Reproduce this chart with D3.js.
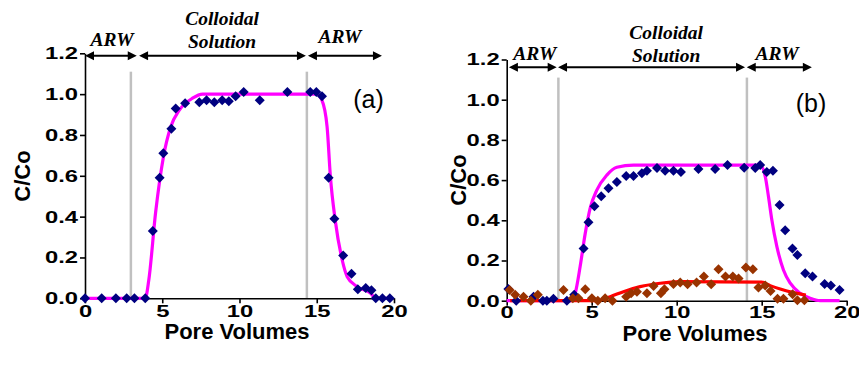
<!DOCTYPE html>
<html>
<head>
<meta charset="utf-8">
<script src="https://cdn.jsdelivr.net/npm/d3@7"></script>
<style>
    body { margin: 0; background: #fff; }
    svg { display: block; }
    .axis .domain, .axis .tick line { stroke: #000; stroke-width: 1.6px; }
    .axis text { font-family: Arial, "Liberation Sans", sans-serif; font-weight: bold; font-size: 17px; fill: #000; }
    .title { font-family: Arial, "Liberation Sans", sans-serif; font-weight: bold; font-size: 22px; }
    .phase { font-family: "Times New Roman", "Liberation Serif", serif; font-weight: bold; font-style: italic; font-size: 19.5px; }
    .panel-label { font-family: Arial, "Liberation Sans", sans-serif; font-size: 25px; }
</style>
</head>
<body>
<svg id="chart" width="859" height="365"></svg>
<script>
// shared axis ticks
let xTicks = [0, 5, 10, 15, 20];
let yTicks = [0, 0.2, 0.4, 0.6, 0.8, 1.0, 1.2];

// (a) measured C/Co
let pvA = [0, 1.08, 2.0, 2.7, 3.2, 3.9, 4.39, 4.83, 5.07, 5.59, 5.87, 6.48, 7.4, 7.87, 8.37, 8.88, 9.31,
    9.75, 10.27, 11.31, 13.1, 14.58, 14.97, 15.34, 15.77, 16.14, 16.71, 17.25, 17.66, 18.17, 18.54, 18.82, 19.25, 19.73];
let cA = [0, 0, 0, 0, 0, 0, 0.33, 0.59, 0.71, 0.83, 0.93, 0.955, 0.96, 0.97, 0.96, 0.97, 0.965,
    0.99, 1.01, 0.97, 1.01, 1.01, 1.01, 0.99, 0.59, 0.39, 0.21, 0.12, 0.044, 0.05, 0.04, 0, 0, 0];
// (a) fitted curve
let fitPvA = [0, 3.9, 4.13, 4.57, 5.07, 5.55, 6.09, 6.96, 7.61, 15.0, 15.34, 15.67, 15.88, 16.2, 16.64, 16.97, 17.62, 18.49, 18.82, 19.75];
let fitCA = [0, 0, 0.09, 0.42, 0.69, 0.84, 0.92, 0.98, 1.0, 1.0, 0.97, 0.84, 0.6, 0.38, 0.19, 0.106, 0.057, 0.025, 0, 0];

// (b) measured C/Co, blue series
let pvB = [0.1, 0.56, 1.58, 2.13, 2.36, 2.75, 3.54, 3.97, 4.52, 4.81, 5.16, 5.56, 5.99, 6.48, 7.03, 7.46, 7.95, 8.25,
    8.84, 9.32, 9.81, 10.25, 11.28, 12.26, 12.99, 13.97, 14.62, 14.91, 15.3, 15.66, 16.05, 16.38, 16.81, 17.1, 17.56,
    17.99, 18.7, 19.07, 19.58];
let cB = [0.058, 0, 0.02, 0, 0, 0.01, 0, 0.03, 0.26, 0.39, 0.47, 0.52, 0.56, 0.59, 0.62, 0.62, 0.634, 0.647,
    0.66, 0.647, 0.647, 0.64, 0.655, 0.655, 0.675, 0.662, 0.66, 0.675, 0.64, 0.647, 0.476, 0.35, 0.26, 0.227, 0.136,
    0.12, 0.083, 0.075, 0.053];
// (b) measured C/Co, brown series
let pvBr = [0.17, 0.5, 0.99, 1.42, 1.83, 3.34, 3.89, 4.22, 4.62, 5.01, 5.36, 5.79, 6.22, 7.03, 7.32, 7.66, 8.25, 8.64,
    9.07, 9.28, 9.81, 10.21, 10.64, 11.17, 11.6, 12.03, 12.46, 12.87, 13.3, 13.64, 14.07, 14.48, 14.81, 15.21, 15.52,
    15.93, 16.28, 16.82, 17.1, 17.51];
let cBr = [0.053, 0.03, 0.02, 0, 0.03, 0.053, 0.012, 0.012, 0.057, 0.012, 0, 0.012, 0, 0.02, 0.037, 0.045, 0.037, 0.073,
    0.037, 0.057, 0.083, 0.09, 0.082, 0.09, 0.12, 0.082, 0.156, 0.12, 0.12, 0.11, 0.165, 0.156, 0.066, 0.076, 0.048,
    0.01, 0.01, 0.032, 0.002, 0.002];
// (b) fitted curves
let fitPvB = [0, 3.83, 4.03, 4.32, 4.62, 4.91, 5.3, 5.89, 6.48, 7.46, 14.91, 15.21, 15.4, 15.6, 15.89, 16.28, 16.68, 17.26, 17.85, 18.44, 19.58];
let fitCB = [0, 0, 0.037, 0.17, 0.335, 0.46, 0.55, 0.625, 0.664, 0.675, 0.675, 0.617, 0.517, 0.40, 0.27, 0.153, 0.087, 0.037, 0.012, 0, 0];
let fitPvR = [0.2, 5.3, 6.09, 6.87, 7.85, 9.03, 10.2, 15.0, 15.5, 16.09, 16.87, 17.6];
let fitCR = [0, 0, 0.02, 0.045, 0.07, 0.087, 0.095, 0.092, 0.075, 0.058, 0.04, 0.028];

// injection phases (pore volumes)
let phaseNames = ["ARW", "Colloidal|Solution", "ARW"];
let phasesA = [[0, 3.35], [3.5, 14.3], [14.43, 19.22]];
let phasesB = [[0.13, 2.94], [3.02, 14.02], [14.12, 17.95]];
let switchA = [2.97, 14.36];
let switchB = [3.04, 14.13];

let zip = (xs, ys) => xs.map((x, i) => [x, ys[i]]);

function drawPanel(svg, o) {
    let g = svg.append("g");
    let x = d3.scaleLinear().domain([0, 20]).range(o.xRange);
    let y = d3.scaleLinear().domain([0, 1.2]).range(o.yRange);
    let sx = 1.4; // tick digits look wide in the original

    // phase boundaries
    g.selectAll(".switch")
        .data(o.switches)
        .join("line")
        .attr("x1", d => x(d)).attr("x2", d => x(d))
        .attr("y1", y(1.11)).attr("y2", y(0))
        .style("stroke", "#c0c0c0")
        .style("stroke-width", 2.5);

    // axes
    let yAxis = d3.axisLeft(y).tickValues(yTicks).tickFormat(d3.format(".1f")).tickSize(5).tickSizeOuter(0);
    let ga = g.append("g").attr("class", "axis")
        .attr("transform", "translate(" + o.xRange[0] + ",0)")
        .call(yAxis);
    ga.selectAll("text").attr("transform", "scale(" + sx + ",1)").attr("x", -7 / sx);

    let xAxis = d3.axisBottom(x).tickValues(xTicks).tickSize(5).tickSizeOuter(0);
    let gx = g.append("g").attr("class", "axis")
        .attr("transform", "translate(0," + o.yRange[0] + ")")
        .call(xAxis);
    gx.selectAll("text")
        .attr("transform", "scale(" + sx + ",1)")
        .attr("y", o.xLabelGap).attr("dy", 0);

    // fitted curves
    let line = d3.line().x(d => x(d[0])).y(d => y(d[1])).curve(d3.curveMonotoneX);
    o.curves.forEach(c => {
        g.append("path")
            .datum(c.points)
            .attr("d", line)
            .style("fill", "none")
            .style("stroke", c.color)
            .style("stroke-width", 3.2)
            .style("stroke-linejoin", "round");
    });

    // measured points
    let diamond = d3.symbol().type(d3.symbolSquare).size(50);
    o.series.forEach(s => {
        g.append("g").selectAll("path")
            .data(s.points)
            .join("path")
            .attr("d", diamond)
            .attr("transform", d => "translate(" + x(d[0]) + "," + y(d[1]) + ") rotate(45)")
            .style("fill", s.color);
    });

    // phase arrows
    let ay = y(o.arrowAt);
    o.phases.forEach(p => {
        let x1 = x(p[0]), x2 = x(p[1]);
        g.append("line")
            .attr("x1", x1 + 4).attr("x2", x2 - 4)
            .attr("y1", ay).attr("y2", ay)
            .style("stroke", "#000").style("stroke-width", 2);
        g.append("path")
            .attr("d", "M" + x1 + "," + ay + "l9,-4.5l0,9z" + "M" + x2 + "," + ay + "l-9,-4.5l0,9z")
            .style("fill", "#000");
    });

    // phase names
    phaseNames.forEach((name, i) => {
        let lines = name.split("|");
        let t = g.append("text").attr("class", "phase")
            .attr("text-anchor", "middle");
        lines.forEach((s, j) => {
            t.append("tspan")
                .attr("x", x(o.nameX[i]))
                .attr("y", y(o.nameY[i]) - (lines.length - 1 - j) * 23)
                .text(s);
        });
    });

    g.append("text").attr("class", "panel-label")
        .attr("text-anchor", "middle")
        .attr("x", x(o.label[1])).attr("y", y(o.label[2]))
        .text(o.label[0]);

    g.append("text").attr("class", "title")
        .attr("text-anchor", "middle")
        .attr("transform", "translate(" + o.yTitle[0] + "," + o.yTitle[1] + ") rotate(-90)")
        .text("C/Co");

    g.append("text").attr("class", "title")
        .attr("text-anchor", "middle")
        .attr("x", o.xTitle[0]).attr("y", o.xTitle[1])
        .text("Pore Volumes");
}

let svg = d3.select("#chart");

drawPanel(svg, {
    xRange: [85, 394], yRange: [298.3, 53.3],
    switches: switchA, phases: phasesA, arrowAt: 1.188,
    nameX: [1.75, 8.87, 16.5], nameY: [1.236, 1.227, 1.251],
    label: ["(a)", 18.35, 0.93],
    xLabelGap: 19, yTitle: [30, 176], xTitle: [237, 339],
    curves: [{ points: zip(fitPvA, fitCA), color: "#ff00ff" }],
    series: [{ points: zip(pvA, cA), color: "#000080" }]
});

drawPanel(svg, {
    xRange: [506.7, 846.7], yRange: [300.7, 59.5],
    switches: switchB, phases: phasesB, arrowAt: 1.161,
    nameX: [1.65, 9.38, 15.9], nameY: [1.197, 1.188, 1.197],
    label: ["(b)", 17.9, 0.94],
    xLabelGap: 17, yTitle: [466, 180], xTitle: [695, 341],
    curves: [{ points: zip(fitPvB, fitCB), color: "#ff00ff" }, { points: zip(fitPvR, fitCR), color: "#ff0000" }],
    series: [{ points: zip(pvB, cB), color: "#000080" }, { points: zip(pvBr, cBr), color: "#993300" }]
});
</script>
</body>
</html>
